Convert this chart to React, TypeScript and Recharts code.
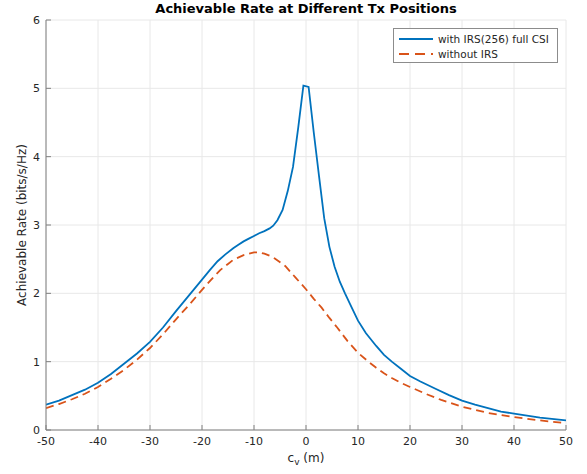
import React from 'react';
import { LineChart, Line, XAxis, YAxis, CartesianGrid } from 'recharts';

const xTicks = [-50, -40, -30, -20, -10, 0, 10, 20, 30, 40, 50];
const yTicks = [0, 1, 2, 3, 4, 5, 6];

const irsX = [-50, -47.5, -45, -42.5, -40, -37.5, -35, -32.5, -30, -27.5, -25, -22.5, -20, -18.5, -17, -15.5, -14, -13, -12, -11, -10, -9, -8, -7, -6.3, -5.5, -4.5, -3.5, -2.5, -1.5, -0.5, 0.5, 1.5, 2.5, 3.5, 4.5, 5.5, 6.5, 7.5, 8.5, 10, 11.5, 13.5, 15, 16.5, 18, 20, 22, 25, 27.5, 30, 32.5, 35, 37.5, 40, 45, 50];
const irsY = [0.37, 0.43, 0.51, 0.59, 0.69, 0.82, 0.97, 1.12, 1.29, 1.5, 1.74, 1.97, 2.2, 2.34, 2.47, 2.57, 2.66, 2.71, 2.76, 2.8, 2.84, 2.88, 2.91, 2.95, 2.99, 3.07, 3.22, 3.5, 3.85, 4.42, 5.04, 5.02, 4.35, 3.72, 3.1, 2.68, 2.39, 2.17, 2.0, 1.84, 1.6, 1.42, 1.23, 1.1, 1.0, 0.91, 0.79, 0.71, 0.6, 0.51, 0.43, 0.37, 0.32, 0.27, 0.24, 0.18, 0.14];

const noX = [-50, -47.5, -45, -42.5, -40, -37.5, -35, -32.5, -30, -27.5, -25, -22.5, -20, -18, -16.5, -15, -14, -12, -10, -9, -8, -7, -6, -4, -2, 0, 1.5, 3, 4.5, 6, 8, 10, 12, 13.5, 15, 16.5, 18, 20, 23, 26, 30, 35, 40, 45, 50];
const noY = [0.32, 0.38, 0.45, 0.53, 0.63, 0.75, 0.88, 1.03, 1.2, 1.4, 1.62, 1.83, 2.05, 2.22, 2.34, 2.43, 2.49, 2.56, 2.6, 2.6, 2.58, 2.55, 2.51, 2.4, 2.23, 2.06, 1.92, 1.79, 1.64, 1.5, 1.3, 1.13, 1.0, 0.91, 0.83, 0.76, 0.7, 0.63, 0.53, 0.44, 0.34, 0.25, 0.19, 0.14, 0.1];

const irsData = irsX.map((x, i) => ({ x, y: irsY[i] }));
const noData = noX.map((x, i) => ({ x, y: noY[i] }));

const FONT = '"DejaVu Sans", sans-serif';
const BLUE = '#0072BD';
const RED = '#D95319';

const LegendBox = () => (
  <div style={{ position: 'absolute', left: 393, top: 28, border: '1px solid #8c8c8c', background: '#fff', width: 165, height: 35, fontFamily: FONT, fontSize: 10.5, color: '#262626', boxSizing: 'border-box', padding: '2px 0 0 4px', whiteSpace: 'nowrap' }}>
    <div style={{ display: 'flex', alignItems: 'center', height: 15 }}>
      <svg width={36} height={6}><line x1={1} y1={3} x2={35} y2={3} stroke={BLUE} strokeWidth={2} /></svg>
      <span style={{ marginLeft: 4 }}>with IRS(256) full CSI</span>
    </div>
    <div style={{ display: 'flex', alignItems: 'center', height: 15 }}>
      <svg width={36} height={6}><line x1={1} y1={3} x2={35} y2={3} stroke={RED} strokeWidth={2} strokeDasharray="10 6" /></svg>
      <span style={{ marginLeft: 4 }}>without IRS</span>
    </div>
  </div>
);

export default function App() {
  return (
    <div style={{ position: 'absolute', left: 0, top: 0, width: 587, height: 474, background: '#fff' }}>
      <div style={{ position: 'absolute', left: 46, width: 520, top: 1, textAlign: 'center', fontFamily: FONT, fontWeight: 'bold', fontSize: 13, color: '#000' }}>
        Achievable Rate at Different Tx Positions
      </div>
      <LineChart width={587} height={474} margin={{ top: 20, right: 21, bottom: 0, left: 0 }}>
        <CartesianGrid stroke="#e8e8e8" strokeWidth={1} />
        <XAxis
          type="number"
          dataKey="x"
          domain={[-50, 50]}
          ticks={xTicks}
          height={44}
          allowDataOverflow
          stroke="#808080"
          tickSize={-5}
          tickMargin={12}
          tick={{ fill: '#262626', fontSize: 11, fontFamily: FONT }}
        />
        <YAxis
          type="number"
          domain={[0, 6]}
          ticks={yTicks}
          width={46}
          allowDataOverflow
          stroke="#808080"
          tickSize={-5}
          tickMargin={11}
          tick={{ fill: '#262626', fontSize: 11, fontFamily: FONT }}
        />
        <Line data={noData} dataKey="y" name="without IRS" stroke={RED} strokeWidth={1.8} strokeDasharray="8 5" dot={false} isAnimationActive={false} type="linear" />
        <Line data={irsData} dataKey="y" name="with IRS(256) full CSI" stroke={BLUE} strokeWidth={1.8} dot={false} isAnimationActive={false} type="linear" />
      </LineChart>
      <LegendBox />
      <div style={{ position: 'absolute', left: 22, top: 225, transform: 'translate(-50%, -50%) rotate(-90deg)', whiteSpace: 'nowrap', fontFamily: FONT, fontSize: 12, color: '#262626' }}>
        Achievable Rate (bits/s/Hz)
      </div>
      <div style={{ position: 'absolute', left: 306, top: 451, transform: 'translateX(-50%)', whiteSpace: 'nowrap', fontFamily: FONT, fontSize: 12, color: '#262626' }}>
        c<sub style={{ fontSize: 9, verticalAlign: '-3px' }}>v</sub> (m)
      </div>
    </div>
  );
}
